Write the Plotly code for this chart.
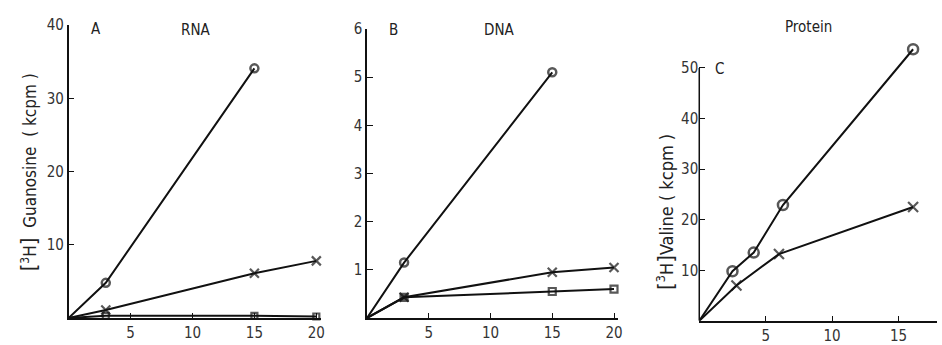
import plotly.graph_objects as go

W, H = 942, 345

# ---- data ----
rna_circle_x = [0, 3, 15]
rna_circle_y = [0, 4.8, 34.1]
rna_cross_x = [0, 3, 15, 20]
rna_cross_y = [0, 1.1, 6.1, 7.8]
rna_square_x = [0, 3, 15, 20]
rna_square_y = [0, 0.3, 0.3, 0.2]

dna_circle_x = [0, 3, 15]
dna_circle_y = [0, 1.15, 5.1]
dna_cross_x = [0, 3, 15, 20]
dna_cross_y = [0, 0.43, 0.95, 1.05]
dna_square_x = [0, 3, 15, 20]
dna_square_y = [0, 0.43, 0.55, 0.6]

prot_circle_x = [0, 2.5, 4.1, 6.3, 16.1]
prot_circle_y = [0, 9.8, 13.5, 22.9, 53.7]
prot_cross_x = [0, 2.8, 6.0, 16.1]
prot_cross_y = [0, 7.0, 13.2, 22.5]

x_ticks_ab = [5, 10, 15, 20]
x_ticks_c = [5, 10, 15]
y_ticks_a = [10, 20, 30, 40]
y_ticks_b = [1, 2, 3, 4, 5, 6]
y_ticks_c = [10, 20, 30, 40, 50]

FONT = "DejaVu Sans Condensed"
INK = "#111111"

fig = go.Figure()


def sizes(n, s):
    return [0] + [s] * (n - 1)


def add(xs, ys, symbol, size, xa, ya, fill_first=False, mw=2.2):
    syms = [symbol] * len(xs)
    if fill_first:
        syms[1] = "square"
    fig.add_trace(go.Scatter(
        x=xs, y=ys, mode="lines+markers", xaxis=xa, yaxis=ya,
        line=dict(color=INK, width=2),
        marker=dict(symbol=syms, size=sizes(len(xs), size), color=INK,
                    line=dict(color=INK, width=mw)),
        cliponaxis=False, showlegend=False))


add(rna_circle_x, rna_circle_y, "circle-open", 8, "x", "y", mw=2.5)
add(rna_cross_x, rna_cross_y, "x-thin-open", 9, "x", "y")
add(rna_square_x, rna_square_y, "square-open", 6, "x", "y")

add(dna_circle_x, dna_circle_y, "circle-open", 8, "x2", "y2", mw=2.5)
add(dna_cross_x, dna_cross_y, "x-thin-open", 9, "x2", "y2")
add(dna_square_x, dna_square_y, "square-open", 7, "x2", "y2", fill_first=True)

add(prot_circle_x, prot_circle_y, "circle-open", 10, "x3", "y3", mw=2.5)
add(prot_cross_x, prot_cross_y, "x-thin-open", 10, "x3", "y3")


def px_dom(a, b, total):
    return [a / total, b / total]


tickfont = dict(family=FONT, size=15, color="#333")
common_x = dict(showline=True, linecolor=INK, linewidth=1.5, ticks="inside",
                ticklen=5, tickcolor=INK, tickwidth=1.2, showgrid=False,
                zeroline=False, tickfont=tickfont)
common_y = dict(showline=True, linecolor=INK, linewidth=1.5, ticks="inside",
                ticklen=6, tickcolor=INK, tickwidth=1.2, showgrid=False,
                zeroline=False, tickfont=tickfont)

fig.update_layout(
    width=W, height=H, margin=dict(l=0, r=0, t=0, b=0),
    paper_bgcolor="white", plot_bgcolor="white",
    xaxis=dict(domain=px_dom(69, 323, W), range=[0, 20.4], tickvals=x_ticks_ab,
               anchor="y", **common_x),
    yaxis=dict(domain=[(H - 325) / H, (H - 17) / H], range=[0, 40],
               tickvals=y_ticks_a, anchor="x", **common_y),
    xaxis2=dict(domain=px_dom(369, 621, W), range=[0, 20.3], tickvals=x_ticks_ab,
                anchor="y2", **common_x),
    yaxis2=dict(domain=[(H - 325) / H, (H - 21) / H], range=[0, 6],
                tickvals=y_ticks_b, anchor="x2", **common_y),
    xaxis3=dict(domain=px_dom(703, 942, W), range=[0, 17.9], tickvals=x_ticks_c,
                anchor="y3", **common_x),
    yaxis3=dict(domain=[(H - 328) / H, (H - 35.4) / H], range=[0, 55],
                tickvals=y_ticks_c, anchor="x3",
                **{**common_y, "showline": False}),
)

# axis line of panel C stops at 50
fig.add_shape(type="line", xref="x3 domain", yref="y3", x0=0, x1=0, y0=0, y1=50,
              line=dict(color=INK, width=1.5))


def ann(px, py, text, size=15, angle=0):
    fig.add_annotation(x=px / W, y=1 - py / H, xref="paper", yref="paper",
                       text=text, showarrow=False, textangle=angle,
                       font=dict(family=FONT, size=size, color="#222"),
                       xanchor="center", yanchor="middle")


ann(97, 21, "A")
ann(197, 22, "RNA")
ann(396, 22, "B")
ann(502, 22, "DNA")
ann(723, 63, "C")
ann(813, 19, "Protein")
ann(29, 172, "<span style='font-size:22px'>[</span><sup>3</sup>H<span style='font-size:22px'>]</span>  Guanosine  ( kcpm )",
    size=17, angle=-90)
ann(669, 213, "<span style='font-size:22px'>[</span><sup>3</sup>H<span style='font-size:22px'>]</span>Valine ( kcpm )",
    size=18, angle=-90)

fig.write_html("out.html")
